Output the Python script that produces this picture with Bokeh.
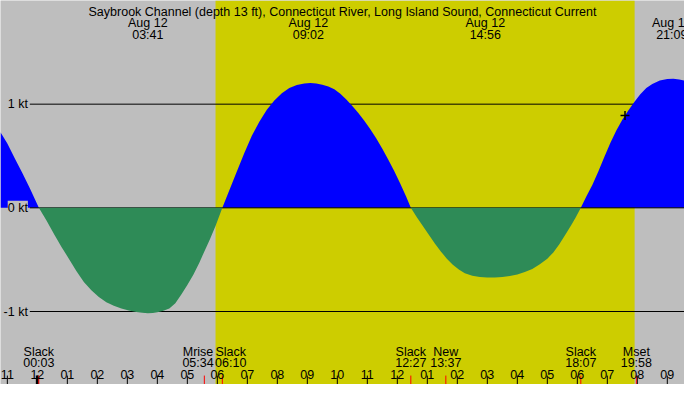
from bokeh.plotting import figure
from bokeh.models import Range1d, Label
from bokeh.embed import file_html
from bokeh.resources import INLINE
import numpy as np

title = "Saybrook Channel (depth 13 ft), Connecticut River, Long Island Sound, Connecticut Current"

# current speed: hours after midnight Aug 12 -> knots (flood +, ebb -)
hours = [-1.228, -1.0, -0.75, -0.5, -0.25, 0.05,
         0.3, 0.55, 0.8, 1.05, 1.3, 1.55, 1.8, 2.05, 2.3, 2.55, 2.8, 3.05, 3.3, 3.5,
         3.683, 3.85, 4.0, 4.2, 4.4, 4.6, 4.8, 5.0, 5.2, 5.4, 5.56, 5.75, 5.94, 6.167,
         6.4, 6.65, 6.9, 7.15, 7.4, 7.65, 7.9, 8.15, 8.4, 8.65, 8.9, 9.1, 9.3, 9.5,
         9.7, 9.9, 10.1, 10.3, 10.5, 10.7, 10.9, 11.1, 11.3, 11.5, 11.7, 11.9, 12.1,
         12.3, 12.45,
         12.65, 12.85, 13.05, 13.25, 13.45, 13.65, 13.85, 14.05, 14.25, 14.5, 14.75,
         15.0, 15.25, 15.5, 15.75, 16.0, 16.25, 16.5, 16.75, 17.0, 17.2, 17.4, 17.6,
         17.8, 17.95, 18.117,
         18.3, 18.5, 18.7, 18.9, 19.1, 19.3, 19.5, 19.7, 19.9, 20.1, 20.3, 20.5,
         20.75, 21.0, 21.2, 21.4, 21.573]
knots = [0.73, 0.62, 0.475, 0.335, 0.19, 0.0,
         -0.12, -0.25, -0.375, -0.49, -0.61, -0.715, -0.795, -0.86, -0.91, -0.945,
         -0.97, -0.99, -1.005, -1.013,
         -1.017, -1.015, -1.008, -0.993, -0.97, -0.92, -0.835, -0.745, -0.645, -0.53,
         -0.425, -0.305, -0.175, 0.0,
         0.17, 0.35, 0.53, 0.695, 0.83, 0.945, 1.035, 1.105, 1.155, 1.185, 1.2, 1.205,
         1.2, 1.187, 1.17, 1.145, 1.1, 1.045, 0.983, 0.915, 0.84, 0.758, 0.668, 0.57,
         0.465, 0.353, 0.233, 0.105, 0.0,
         -0.09, -0.175, -0.26, -0.345, -0.42, -0.49, -0.55, -0.595, -0.63, -0.655,
         -0.668, -0.673, -0.672, -0.667, -0.657, -0.642, -0.62, -0.59, -0.545, -0.49,
         -0.43, -0.35, -0.26, -0.165, -0.09, 0.0,
         0.11, 0.22, 0.35, 0.49, 0.625, 0.745, 0.85, 0.94, 1.02, 1.095, 1.155, 1.195,
         1.228, 1.242, 1.245, 1.238, 1.228]

# max flood / ebb (top labels)
max_hours = [3.683, 9.033, 14.933, 21.15]
max_dates = ["Aug 12", "Aug 12", "Aug 12", "Aug 12"]
max_times = ["03:41", "09:02", "14:56", "21:09"]

# events along the bottom
event_hours = [0.05, 5.567, 6.167, 12.45, 13.617, 18.117, 19.967]
event_names = ["Slack", "Mrise", "Slack", "Slack", "New", "Slack", "Mset"]
event_times = ["00:03", "05:34", "06:10", "12:27", "13:37", "18:07", "19:58"]

tick_hours = list(range(-1, 22))
tick_labels = ["11", "12", "01", "02", "03", "04", "05", "06", "07", "08", "09", "10",
               "11", "12", "01", "02", "03", "04", "05", "06", "07", "08", "09"]

sunrise = 5.94
sunset = 19.91
now_hour = 19.59
now_knots = 0.89

levels = [1, 0, -1]
level_labels = ["1 kt", "0 kt", "-1 kt"]

# layout
W, H = 684, 384
sx, sy = W / 700, H / 400
x_start, x_end = -1.228, 21.573
y_min, y_max = -1.704, 2.0
FONT = "Liberation Sans"
FS = "12.5px"
grey = "#bebebe"
yellow = "#cdcd00"

p = figure(width=W, height=H, x_range=Range1d(x_start, x_end), y_range=Range1d(y_min, y_max),
           x_axis_type=None, y_axis_type=None, toolbar_location=None,
           output_backend="svg", min_border=0)
p.grid.visible = False
p.outline_line_color = None
p.background_fill_color = grey
p.border_fill_color = grey

# daylight
p.quad(left=[sunrise], right=[sunset], bottom=[y_min], top=[y_max],
       fill_color=yellow, line_color=None)

hpp = (x_end - x_start) / W  # hours per pixel
line_x0 = x_start + 30 * sx * hpp
for lv in levels:
    if lv != 0:
        p.segment(x0=[line_x0], x1=[x_end], y0=[lv], y1=[lv], line_color="black", line_width=1)

k = np.array(knots)
p.varea(x=hours, y1=np.zeros(len(k)), y2=np.maximum(k, 0), fill_color="#0000ff")
p.segment(x0=[line_x0], x1=[x_end], y0=[0], y1=[0], line_color="black", line_width=1)
p.varea(x=hours, y1=np.zeros(len(k)), y2=np.minimum(k, 0), fill_color="#2e8b57")

p.scatter(x=[now_hour], y=[now_knots], marker="cross", size=9, line_width=1.5,
          line_color="black")

for lv, lab in zip(levels, level_labels):
    p.add_layout(Label(x=28 * sx, x_units="screen", y=lv, text=lab, text_align="right",
                       text_baseline="middle", text_font=FONT, text_font_size=FS,
                       text_color="black", background_fill_color=grey))


def sy_ref(y):
    return H - y * sy


def text(x, y, s, **kw):
    p.add_layout(Label(x=x, y=sy_ref(y), y_units="screen", text=s, text_align="center",
                       text_baseline="alphabetic", text_font=FONT, text_font_size=FS,
                       text_color="black", **kw))


# title and max current labels
text(W / 2, 11.5, title, x_units="screen")
for h, d, t in zip(max_hours, max_dates, max_times):
    text(h, 23.5, d)
    text(h, 35.5, t)

# hour ticks
tick_len = 9.3 * sy * (y_max - y_min) / H
n = len(tick_hours)
p.segment(x0=tick_hours, x1=tick_hours, y0=[y_min] * n, y1=[y_min + tick_len] * n,
          line_color="black", line_width=1)
p.segment(x0=[0], x1=[0], y0=[y_min], y1=[y_min + tick_len], line_color="black", line_width=3)
m = len(event_hours)
p.segment(x0=event_hours, x1=event_hours, y0=[y_min] * m, y1=[y_min + tick_len] * m,
          line_color="red", line_width=1)
for h, lab in zip(tick_hours, tick_labels):
    text(h, 389.5, lab)

# events
event_nudge = [0, -6.3, 8.4, 0, 0, 0, 0]
for h, nm, t, dx in zip(event_hours, event_names, event_times, event_nudge):
    text(h, 366.5, nm, x_offset=dx)
    text(h, 377.5, t, x_offset=dx)

open("out.html", "w").write(file_html(p, INLINE))
